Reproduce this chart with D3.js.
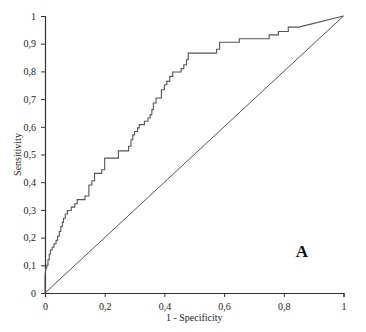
<!DOCTYPE html>
<html>
<head>
<meta charset="utf-8">
<script src="https://cdn.jsdelivr.net/npm/d3@7"></script>
<style>
  html, body { margin: 0; padding: 0; background: #fff; }
  svg { display: block; }
  .tick text { font-family: "Liberation Serif", "Times New Roman", serif; font-size: 10px; fill: #222; }
</style>
</head>
<body>
<svg id="chart" width="366" height="332"></svg>
<script>
// ROC curve vertices: false positive rate (1 - specificity) and true positive rate (sensitivity)
const fpr = [0,0,0.003,0.006,0.006,0.01,0.01,0.014,0.014,0.018,0.018,0.024,0.024,0.03,0.03,0.037,0.037,0.042,0.042,0.048,0.048,0.053,0.053,0.058,0.058,0.062,0.062,0.068,0.068,0.075,0.075,0.088,0.088,0.1,0.1,0.108,0.108,0.134,0.134,0.147,0.147,0.157,0.157,0.166,0.166,0.19,0.19,0.2,0.2,0.246,0.246,0.28,0.28,0.288,0.288,0.294,0.294,0.3,0.3,0.31,0.31,0.316,0.316,0.333,0.333,0.345,0.345,0.352,0.352,0.358,0.358,0.363,0.363,0.372,0.372,0.39,0.39,0.4,0.4,0.408,0.408,0.418,0.418,0.428,0.428,0.456,0.456,0.465,0.465,0.474,0.474,0.48,0.48,0.575,0.575,0.585,0.585,0.651,0.651,0.751,0.751,0.782,0.782,0.815,0.815,0.85,1];
const tpr = [0,0.06,0.09,0.09,0.1,0.1,0.12,0.12,0.14,0.14,0.155,0.155,0.165,0.165,0.178,0.178,0.19,0.19,0.205,0.205,0.222,0.222,0.24,0.24,0.255,0.255,0.27,0.27,0.285,0.285,0.298,0.298,0.31,0.31,0.322,0.322,0.337,0.337,0.35,0.35,0.39,0.39,0.405,0.405,0.432,0.432,0.445,0.445,0.487,0.487,0.513,0.513,0.53,0.53,0.553,0.553,0.571,0.571,0.583,0.583,0.596,0.596,0.608,0.608,0.62,0.62,0.632,0.632,0.644,0.644,0.662,0.662,0.686,0.686,0.704,0.704,0.734,0.734,0.752,0.752,0.764,0.764,0.782,0.782,0.798,0.798,0.81,0.81,0.824,0.824,0.842,0.842,0.866,0.866,0.88,0.88,0.905,0.905,0.918,0.918,0.932,0.932,0.944,0.944,0.96,0.96,1];

// Chance diagonal
const chanceX = [0, 1];
const chanceY = [0, 1];

const xTicks = [0, 0.2, 0.4, 0.6, 0.8, 1];
const yTicks = [0, 0.1, 0.2, 0.3, 0.4, 0.5, 0.6, 0.7, 0.8, 0.9, 1];

const xTitle = "1 - Specificity";
const yTitle = "Sensitivity";
const panelLabel = "A";

const svg = d3.select("#chart");
const margin = { left: 45, right: 22.5, top: 16, bottom: 39 };
const W = 366, H = 332;

const x = d3.scaleLinear().domain([0, 1]).range([margin.left, W - margin.right]);
const y = d3.scaleLinear().domain([0, 1]).range([H - margin.bottom, margin.top]);

const fmt = d => d === 0 || d === 1 ? String(d) : String(d).replace(".", ",");

// Axes
const xAxis = svg.append("g")
  .attr("transform", `translate(0,${y(0)})`)
  .call(d3.axisBottom(x).tickValues(xTicks).tickFormat(fmt).tickSize(4).tickPadding(6));
const yAxis = svg.append("g")
  .attr("transform", `translate(${x(0)},0)`)
  .call(d3.axisLeft(y).tickValues(yTicks).tickFormat(fmt).tickSize(4).tickPadding(5));

[xAxis, yAxis].forEach(g => {
  g.select(".domain").attr("stroke", "#333").attr("stroke-width", 1.2);
  g.selectAll(".tick line").attr("stroke", "#333");
});

// Diagonal reference line
const line = d3.line().x(d => x(d[0])).y(d => y(d[1]));
svg.append("path")
  .datum(d3.zip(chanceX, chanceY))
  .attr("d", line)
  .attr("fill", "none")
  .attr("stroke", "#555")
  .attr("stroke-width", 1);

// ROC curve
svg.append("path")
  .datum(d3.zip(fpr, tpr))
  .attr("d", line)
  .attr("fill", "none")
  .attr("stroke", "#555")
  .attr("stroke-width", 1.1);

// Axis titles
svg.append("text")
  .attr("x", x(0.5))
  .attr("y", 321)
  .attr("text-anchor", "middle")
  .style("font-family", "'Liberation Serif', 'Times New Roman', serif")
  .style("font-size", "10px")
  .attr("fill", "#222")
  .text(xTitle);

svg.append("text")
  .attr("transform", `translate(21,${(y(0) + y(1)) / 2}) rotate(-90)`)
  .attr("text-anchor", "middle")
  .style("font-family", "'Liberation Serif', 'Times New Roman', serif")
  .style("font-size", "10px")
  .attr("fill", "#222")
  .text(yTitle);

// Panel label
svg.append("text")
  .attr("x", 302)
  .attr("y", 257)
  .attr("text-anchor", "middle")
  .style("font-family", "'Liberation Serif', 'Times New Roman', serif")
  .style("font-size", "17px")
  .style("font-weight", "bold")
  .attr("fill", "#111")
  .text(panelLabel);
</script>
</body>
</html>
